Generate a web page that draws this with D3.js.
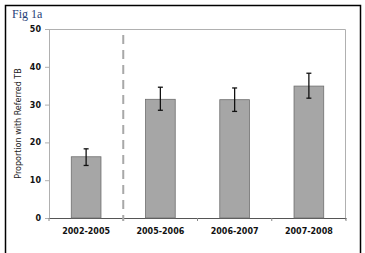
<!DOCTYPE html>
<html>
<head>
<meta charset="utf-8">
<script src="https://cdn.jsdelivr.net/npm/d3@7"></script>
<style>
  body { margin: 0; background: #fff; }
  svg { display: block; }
</style>
</head>
<body>
<div id="chart"></div>
<script>
var categories = ["2002-2005", "2005-2006", "2006-2007", "2007-2008"];
var values = [16.2, 31.4, 31.3, 34.9];
var errLow = [13.9, 28.5, 28.2, 31.7];
var errHigh = [18.3, 34.6, 34.4, 38.3];
var yTicks = [0, 10, 20, 30, 40, 50];

var W = 365, H = 253;
var margin = {top: 29, right: 19, bottom: 35, left: 49};
var width = W - margin.left - margin.right,
    height = H - margin.top - margin.bottom;

var svg = d3.select("#chart").append("svg")
    .attr("width", W)
    .attr("height", H);

// outer frame
svg.append("rect")
    .attr("x", 5.5).attr("y", 5.5)
    .attr("width", 355).attr("height", 260)
    .attr("fill", "none")
    .attr("stroke", "#000")
    .attr("stroke-width", 1.5);

svg.append("text")
    .attr("x", 12).attr("y", 18)
    .attr("font-family", "Liberation Serif, serif")
    .attr("font-size", "12px")
    .attr("fill", "#1f3f78")
    .text("Fig 1a");

var g = svg.append("g").attr("transform", "translate(" + margin.left + "," + margin.top + ")");

var x = d3.scaleBand().domain(categories).range([0, width]).paddingInner(0.6).paddingOuter(0.3);
var y = d3.scaleLinear().domain([0, 50]).range([height, 0]);

// plot area frame (top and right)
g.append("path")
    .attr("d", "M0,0.5H" + (width - 0.5) + "V" + (height + 2))
    .attr("fill", "none")
    .attr("stroke", "#b0b0b0");

var yAxis = g.append("g")
    .call(d3.axisLeft(y).tickValues(yTicks).tickSize(4).tickPadding(4));
yAxis.select(".domain").attr("stroke", "#b0b0b0");
yAxis.selectAll(".tick line").attr("stroke", "#b0b0b0");
yAxis.selectAll("text")
    .attr("font-family", "DejaVu Sans, sans-serif")
    .attr("font-size", "8px")
    .attr("font-weight", "bold")
    .attr("fill", "#111");

var xAxis = g.append("g")
    .attr("transform", "translate(0," + height + ")")
    .call(d3.axisBottom(x).tickSize(0).tickPadding(10));
xAxis.select(".domain").attr("stroke", "#555");
xAxis.selectAll("text")
    .attr("font-family", "DejaVu Sans, sans-serif")
    .attr("font-size", "8px")
    .attr("font-weight", "bold")
    .attr("fill", "#111");

// category boundary ticks
var step = x.step();
g.selectAll(".bt")
    .data(d3.range(categories.length + 1))
    .enter().append("line")
    .attr("x1", function(i){ return i * width / categories.length; })
    .attr("x2", function(i){ return i * width / categories.length; })
    .attr("y1", height).attr("y2", height + 3)
    .attr("stroke", "#888");

// dashed separator
var sepX = width / categories.length;
g.append("line")
    .attr("x1", sepX).attr("x2", sepX)
    .attr("y1", 6).attr("y2", height + 3)
    .attr("stroke", "#a8a8a8")
    .attr("stroke-width", 2)
    .attr("stroke-dasharray", "9,6");

g.selectAll(".bar")
    .data(values)
    .enter().append("rect")
    .attr("x", function(d, i){ return x(categories[i]); })
    .attr("y", function(d){ return y(d); })
    .attr("width", x.bandwidth())
    .attr("height", function(d){ return height - y(d); })
    .attr("fill", "#a6a6a6")
    .attr("stroke", "#6e6e6e")
    .attr("stroke-width", 0.8);

var eb = g.selectAll(".err")
    .data(values)
    .enter().append("g")
    .attr("transform", function(d, i){ return "translate(" + (x(categories[i]) + x.bandwidth() / 2) + ",0)"; });
eb.append("line")
    .attr("y1", function(d, i){ return y(errLow[i]); })
    .attr("y2", function(d, i){ return y(errHigh[i]); })
    .attr("stroke", "#111").attr("stroke-width", 1.3);
eb.append("line")
    .attr("x1", -2.5).attr("x2", 2.5)
    .attr("y1", function(d, i){ return y(errLow[i]); })
    .attr("y2", function(d, i){ return y(errLow[i]); })
    .attr("stroke", "#111").attr("stroke-width", 1.3);
eb.append("line")
    .attr("x1", -2.5).attr("x2", 2.5)
    .attr("y1", function(d, i){ return y(errHigh[i]); })
    .attr("y2", function(d, i){ return y(errHigh[i]); })
    .attr("stroke", "#111").attr("stroke-width", 1.3);

svg.append("text")
    .attr("transform", "translate(21," + (margin.top + height / 2) + ") rotate(-90)")
    .attr("text-anchor", "middle")
    .attr("font-family", "DejaVu Sans, sans-serif")
    .attr("font-size", "8px")
    .attr("fill", "#222")
    .text("Proportion with Referred TB");
</script>
</body>
</html>
